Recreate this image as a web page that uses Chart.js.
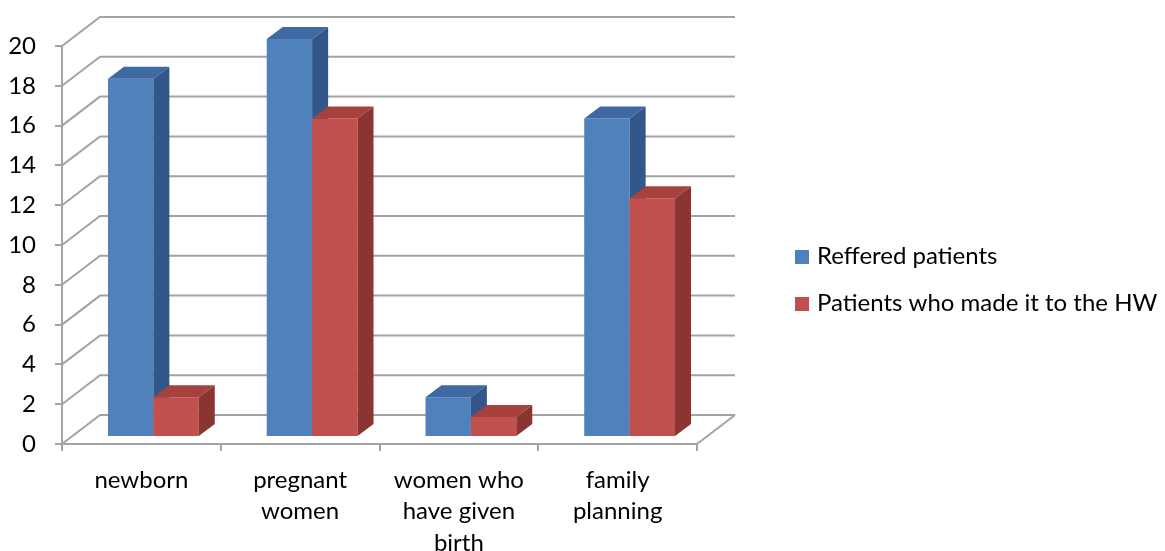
<!DOCTYPE html>
<html><head><meta charset="utf-8">
<script src="https://cdn.jsdelivr.net/npm/chart.js@4"></script>
<style>html,body{margin:0;padding:0;background:#fff;}#wrap{width:1165px;height:551px;}</style>
</head><body><div id="wrap"><canvas id="c" width="1165" height="551"></canvas></div>
<script>
// ---- data ----
const categories = [['newborn'], ['pregnant', 'women'], ['women who', 'have given', 'birth'], ['family', 'planning']];
const seriesNames = ['Reffered patients', 'Patients who made it to the HW'];
const referredPatients = [18, 20, 2, 16];
const madeItToHW = [2, 16, 1, 12];
const yMin = 0, yMax = 20, yStep = 2;

// ---- styles ----
const FONT = 'Lato, "Noto Sans", sans-serif';
const GRID = '#a3a3a3';
const WALL = {dx: 38, dy: -29};
const BAR = {ox: 12, oy: -7, dx: 16, dy: -12};
const colors = [
  {front: '#4f81bd', top: '#3e69a3', side: '#325788'},
  {front: '#c0504d', top: '#a6413e', side: '#8b3532'}
];

const draw3d = {
  id: 'draw3d',
  beforeDatasetsDraw(chart) {
    const {ctx, chartArea: a} = chart;
    const y = chart.scales.y;
    ctx.save();
    ctx.strokeStyle = GRID; ctx.lineWidth = 2;
    y.ticks.forEach(t => {
      const py = y.getPixelForValue(t.value);
      ctx.beginPath();
      ctx.moveTo(a.left, py);
      ctx.lineTo(a.left + WALL.dx, py + WALL.dy);
      ctx.lineTo(a.right + WALL.dx, py + WALL.dy);
      ctx.stroke();
    });
    const by = y.getPixelForValue(yMin);
    ctx.beginPath();
    ctx.moveTo(a.right, by);
    ctx.lineTo(a.right + WALL.dx, by + WALL.dy);
    ctx.stroke();
    ctx.restore();

    const n = chart.data.labels.length;
    const nd = chart.data.datasets.length;
    for (let i = 0; i < n; i++) {
      for (let d = 0; d < nd; d++) {
        const el = chart.getDatasetMeta(d).data[i];
        const p = el.getProps(['x', 'y', 'base', 'width'], true);
        const l = p.x - p.width / 2, r = p.x + p.width / 2;
        const c = colors[d];
        ctx.save();
        ctx.translate(BAR.ox, BAR.oy);
        el.draw(ctx);
        ctx.fillStyle = c.top;
        ctx.beginPath();
        ctx.moveTo(l, p.y); ctx.lineTo(l + BAR.dx, p.y + BAR.dy);
        ctx.lineTo(r + BAR.dx, p.y + BAR.dy); ctx.lineTo(r, p.y);
        ctx.closePath(); ctx.fill();
        ctx.fillStyle = c.side;
        ctx.beginPath();
        ctx.moveTo(r, p.y); ctx.lineTo(r + BAR.dx, p.y + BAR.dy);
        ctx.lineTo(r + BAR.dx, p.base + BAR.dy); ctx.lineTo(r, p.base);
        ctx.closePath(); ctx.fill();
        ctx.restore();
      }
    }
    return false;
  },
  afterDraw(chart) {
    const {ctx} = chart;
    ctx.save();
    ctx.font = '24px ' + FONT;
    ctx.textBaseline = 'alphabetic';
    ctx.textAlign = 'left';
    const items = [{y: 257}, {y: 304}];
    chart.data.datasets.forEach((ds, i) => {
      const cy = items[i].y;
      ctx.fillStyle = ds.backgroundColor;
      ctx.fillRect(795, cy - 7, 14, 14);
      ctx.fillStyle = '#000';
      ctx.fillText(ds.label, 817, cy + 7);
    });
    ctx.restore();
  }
};

new Chart(document.getElementById('c'), {
  type: 'bar',
  data: {
    labels: categories,
    datasets: [
      {label: seriesNames[0], data: referredPatients, backgroundColor: colors[0].front},
      {label: seriesNames[1], data: madeItToHW, backgroundColor: colors[1].front}
    ]
  },
  options: {
    responsive: false,
    animation: false,
    layout: {padding: {top: 46, right: 468, left: 0, bottom: 0}},
    datasets: {bar: {categoryPercentage: 0.572, barPercentage: 1.0, borderWidth: 0}},
    plugins: {legend: {display: false}, tooltip: {enabled: false}},
    scales: {
      x: {
        afterFit: s => { s.height = 107; },
        grid: {drawOnChartArea: false, drawTicks: true, tickLength: 7, color: GRID, lineWidth: 2, offset: true},
        border: {display: true, color: GRID, width: 2},
        ticks: {color: '#000', padding: 13, maxRotation: 0, autoSkip: false, font: {family: FONT, size: 24, lineHeight: 1.32}}
      },
      y: {
        min: yMin, max: yMax,
        afterFit: s => { s.width = 62; },
        grid: {drawOnChartArea: false, drawTicks: true, tickLength: 7, color: GRID, lineWidth: 2},
        border: {display: true, color: GRID, width: 2},
        ticks: {stepSize: yStep, color: '#000', padding: 19, font: {family: FONT, size: 24}}
      }
    }
  },
  plugins: [draw3d]
});
</script></body></html>
